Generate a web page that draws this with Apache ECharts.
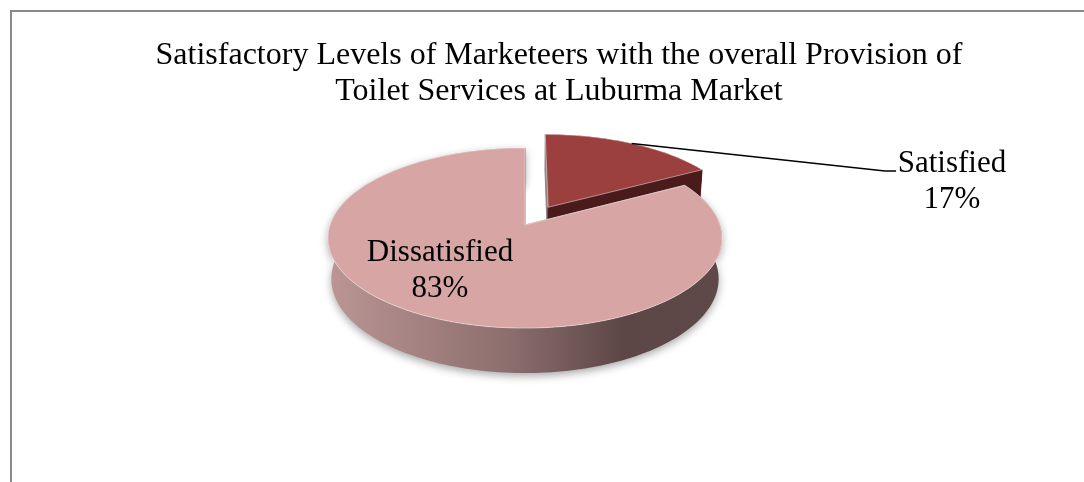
<!DOCTYPE html>
<html>
<head>
<meta charset="utf-8">
<script src="https://cdn.jsdelivr.net/npm/echarts@6/dist/echarts.min.js"></script>
<style>
  html, body { margin: 0; padding: 0; background: #ffffff; }
  #chart { width: 1084px; height: 482px; }
</style>
</head>
<body>
<div id="chart"></div>
<script>
// Survey result: satisfaction with toilet services at Luburma Market
const categories = ['Satisfied', 'Dissatisfied'];
const values = [17, 83];

const titleLines = [
  'Satisfactory Levels of Marketeers with the overall Provision of',
  'Toilet Services at Luburma Market'
];

// slice styling
const topColors = ['#9B403E', '#D6A5A4'];
const explodeBy = [0.24, 0];

const FONT = '"Liberation Serif", "Times New Roman", Times, serif';
const total = values.reduce((a, b) => a + b, 0);
const percentText = values.map(v => Math.round(v / total * 100) + '%');

// Perspective view of a unit disc tilted toward the viewer
const VIEW = {
  cx: 525, cy: 225,           // screen position of the disc centre
  f: 1203,                    // focal length in pixels
  dist: 6.17,                 // camera distance in disc radii
  elev: 26.9 * Math.PI / 180, // camera elevation
  depth: 0.236                // thickness of the pie
};

function project(u, v, w) {
  const s = Math.sin(VIEW.elev), c = Math.cos(VIEW.elev);
  const yc = v * s - w * c;
  const zc = VIEW.dist - v * c - w * s;
  return [VIEW.cx + VIEW.f * u / zc, VIEW.cy + VIEW.f * yc / zc];
}
// clockwise from 12 o'clock; +v points toward the viewer
function dir(theta) { return [Math.sin(theta), -Math.cos(theta)]; }

function sliceAngles(i) {
  let start = 0;
  for (let k = 0; k < i; k++) start += values[k];
  return [start / total * 2 * Math.PI, (start + values[i]) / total * 2 * Math.PI];
}

// label placement
const labelLayout = [
  { outside: true, x: 952, y: 182, elbow: [885, 171], end: [896, 171] },
  { outside: false, x: 440, y: 271 }
];

const sideLeft = project(-1, 0, 0)[0];
const sideRight = project(1, 0, 0)[0];
const sideGradient = new echarts.graphic.LinearGradient(sideLeft, 0, sideRight, 0, [
  { offset: 0, color: '#BA9594' },
  { offset: 0.45, color: '#8D6F6E' },
  { offset: 0.75, color: '#5C4746' },
  { offset: 1, color: '#5E4948' }
], true);
const sideColors = [
  { wall: '#5A2221', startFace: '#8E8484', endFace: '#4B1B1B' },
  { wall: sideGradient, startFace: '#A08E8E', endFace: '#A08E8E' }
];

function renderSlice(params, api) {
  const i = params.dataIndex;
  const [a0, a1] = sliceAngles(i);
  const mid = (a0 + a1) / 2;
  const md = dir(mid);
  const ou = md[0] * explodeBy[i], ov = md[1] * explodeBy[i];
  const d = VIEW.depth;

  const steps = Math.max(8, Math.ceil((a1 - a0) / (Math.PI / 120)));
  const topArc = [], botArc = [];
  let vSum = 0;
  for (let k = 0; k <= steps; k++) {
    const t = a0 + (a1 - a0) * k / steps;
    const [du, dv] = dir(t);
    topArc.push(project(ou + du, ov + dv, 0));
    botArc.push(project(ou + du, ov + dv, -d));
    vSum += ov + dv;
  }
  const apexTop = project(ou, ov, 0);
  const apexBot = project(ou, ov, -d);

  const faces = [];
  // outer curved wall
  faces.push({
    depth: vSum / (steps + 1),
    el: {
      type: 'polygon',
      shape: { points: topArc.concat(botArc.slice().reverse()) },
      style: {
        fill: sideColors[i].wall,
        shadowColor: i === 1 ? 'rgba(0,0,0,0.35)' : 'rgba(0,0,0,0)',
        shadowBlur: i === 1 ? 8 : 0,
        shadowOffsetY: i === 1 ? 3 : 0
      }
    }
  });
  // radial cut faces
  [[a0, 'startFace', 0], [a1, 'endFace', steps]].forEach(([ang, key, idx]) => {
    const dv = dir(ang);
    faces.push({
      depth: ov + dv[1] / 2,
      el: {
        type: 'polygon',
        shape: { points: [apexTop, topArc[idx], botArc[idx], apexBot] },
        style: { fill: sideColors[i][key], stroke: sideColors[i][key], lineWidth: 1 }
      }
    });
  });
  faces.sort((p, q) => p.depth - q.depth);

  const children = faces.map(f => f.el);
  // top face
  children.push({
    type: 'polygon',
    shape: { points: [apexTop].concat(topArc) },
    style: { fill: topColors[i], stroke: 'rgba(255,255,255,0.45)', lineWidth: 1 }
  });

  const lay = labelLayout[i];
  if (lay.outside) {
    const start = project(ou + md[0], ov + md[1], 0);
    children.push({
      type: 'polyline',
      shape: { points: [start, lay.elbow, lay.end] },
      style: { stroke: '#000000', lineWidth: 1.5, fill: null }
    });
  }
  children.push({
    type: 'text',
    x: lay.x, y: lay.y,
    style: {
      text: categories[i] + '\n' + percentText[i],
      font: '31px ' + FONT,
      fill: '#000000',
      textAlign: 'center',
      textVerticalAlign: 'middle',
      lineHeight: 36
    }
  });

  return { type: 'group', children: children };
}

const chart = echarts.init(document.getElementById('chart'), null, { renderer: 'canvas' });
chart.setOption({
  animation: false,
  backgroundColor: '#ffffff',
  title: {
    text: titleLines.join('\n'),
    left: 554,
    top: 33,
    textAlign: 'center',
    textStyle: {
      fontFamily: FONT,
      fontSize: 32,
      fontWeight: 'normal',
      color: '#000000',
      lineHeight: 36
    }
  },
  graphic: [{
    type: 'rect',
    shape: { x: 11, y: 11, width: 1100, height: 500 },
    style: { fill: 'none', stroke: '#8A8A8A', lineWidth: 2 },
    silent: true
  }],
  series: [{
    type: 'custom',
    coordinateSystem: 'none',
    renderItem: renderSlice,
    data: values.map((v, i) => ({ name: categories[i], value: v }))
  }]
});
</script>
</body>
</html>
